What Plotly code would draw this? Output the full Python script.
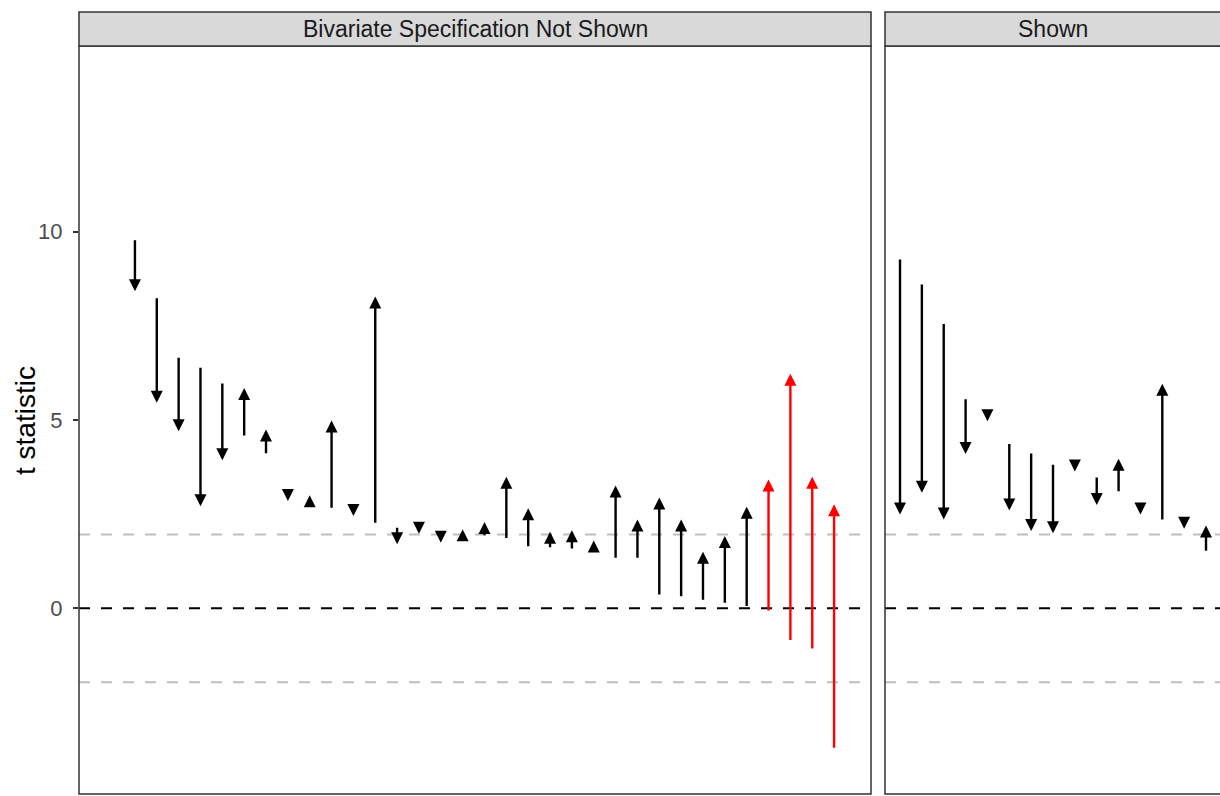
import plotly.graph_objects as go

# Specifications without the bivariate result shown: t statistic before -> after
left_start = [9.81, 8.27, 6.69, 6.43, 6.01, 4.55, 4.08, 3.05, 2.78, 2.63, 2.70,
              2.23, 2.18, 2.20, 1.99, 1.87, 1.90, 1.83, 1.61, 1.58, 1.55, 1.57,
              1.30, 1.30, 0.33, 0.28, 0.19, 0.11, 0.02, -0.10, -0.88, -1.11, -3.74]
left_end = [8.42, 5.46, 4.70, 2.71, 3.93, 5.85, 4.75, 2.85, 3.00, 4.99, 2.45,
            8.28, 1.70, 1.98, 1.74, 2.10, 2.29, 3.49, 2.66, 2.03, 2.07, 1.80,
            3.26, 2.36, 2.94, 2.36, 1.50, 1.92, 2.70, 3.42, 6.23, 3.49, 2.76]

# Specifications with the bivariate result shown
right_start = [9.30, 8.64, 7.59, 5.59, 5.22, 4.40, 4.15, 3.85, 3.85, 3.51, 3.07,
               2.74, 2.32, 2.34, 1.49]
right_end = [2.49, 3.07, 2.36, 4.10, 4.97, 2.60, 2.05, 1.99, 3.63, 2.74, 3.97,
             2.49, 5.96, 2.11, 2.20]

panel_titles = ["Bivariate Specification Not Shown", "Shown"]
y_ticks = [0, 5, 10]
crit = 1.96

W, H = 1220, 796
fig = go.Figure()

# invisible anchors so both subplots are laid out
fig.add_trace(go.Scatter(x=[1], y=[0], mode="markers", marker=dict(opacity=0),
                         xaxis="x", yaxis="y", hoverinfo="skip", showlegend=False))
fig.add_trace(go.Scatter(x=[1], y=[0], mode="markers", marker=dict(opacity=0),
                         xaxis="x2", yaxis="y2", hoverinfo="skip", showlegend=False))

annotations = []
shapes = []


def add_arrows(starts, ends, xref, yref):
    for i, (s, e) in enumerate(zip(starts, ends), start=1):
        col = "#FF0000" if s * e < 0 else "#000000"
        annotations.append(dict(
            x=i, y=e, ax=i, ay=s, xref=xref, yref=yref, axref=xref, ayref=yref,
            text="", showarrow=True, arrowhead=2, arrowsize=1.0, arrowwidth=2.4,
            arrowcolor=col, standoff=0, startstandoff=0,
        ))


add_arrows(left_start, left_end, "x", "y")
add_arrows(right_start, right_end, "x2", "y2")

strip_y0 = 750 / H
strip_y1 = 784 / H
# the right-hand panel runs off the page edge, so its frame extends past it
panels = [("x", "y", panel_titles[0], 1.0), ("x2", "y2", panel_titles[1], 1.01)]
for xr, yr, title, x_end in panels:
    # reference lines
    for val, col in [(0, "#000000"), (crit, "#BEBEBE"), (-crit, "#BEBEBE")]:
        shapes.append(dict(type="line", xref=f"{xr} domain", yref=yr,
                           x0=0, x1=1, y0=val, y1=val,
                           line=dict(color=col, width=2, dash="11px,11px")))
    # panel border
    shapes.append(dict(type="rect", xref=f"{xr} domain", yref=f"{yr} domain",
                       x0=0, x1=x_end, y0=0, y1=1,
                       line=dict(color="#333333", width=1.5)))
    # strip
    shapes.append(dict(type="rect", xref=f"{xr} domain", yref="paper",
                       x0=0, x1=x_end, y0=strip_y0, y1=strip_y1,
                       fillcolor="#D9D9D9", line=dict(color="#333333", width=1.5)))
    annotations.append(dict(text=title, xref=f"{xr} domain", yref="paper",
                            x=0.5, y=(strip_y0 + strip_y1) / 2, showarrow=False,
                            font=dict(size=23, color="#1A1A1A"),
                            xanchor="center", yanchor="middle"))

annotations.append(dict(text="t statistic", xref="paper", yref="y domain",
                        x=25 / W, y=0.5, textangle=-90, showarrow=False,
                        font=dict(size=28, color="#000000"),
                        xanchor="center", yanchor="middle"))

y_range = [-4.93, 14.93]
fig.update_layout(
    width=W, height=H,
    margin=dict(l=0, r=0, t=0, b=0),
    paper_bgcolor="white", plot_bgcolor="white",
    font=dict(family="Liberation Sans, Arial, sans-serif"),
    showlegend=False,
    xaxis=dict(domain=[79 / W, 871 / W], range=[-1.56, 34.69],
               showticklabels=False, ticks="", showgrid=False, zeroline=False,
               showline=False),
    xaxis2=dict(domain=[885 / W, 1.0], range=[0.313, 15.64],
                showticklabels=False, ticks="", showgrid=False, zeroline=False,
                showline=False),
    yaxis=dict(domain=[2 / H, 750 / H], range=y_range, tickvals=y_ticks,
               ticks="outside", ticklen=5, tickwidth=1.5, tickcolor="#333333",
               tickfont=dict(size=22, color="#4D4D4D"), ticklabelstandoff=6,
               showgrid=False, zeroline=False, showline=False, anchor="x"),
    yaxis2=dict(domain=[2 / H, 750 / H], range=y_range, matches="y",
                showticklabels=False, ticks="", showgrid=False, zeroline=False,
                showline=False, anchor="x2"),
    annotations=annotations,
    shapes=shapes,
)

fig.write_html("out.html")
